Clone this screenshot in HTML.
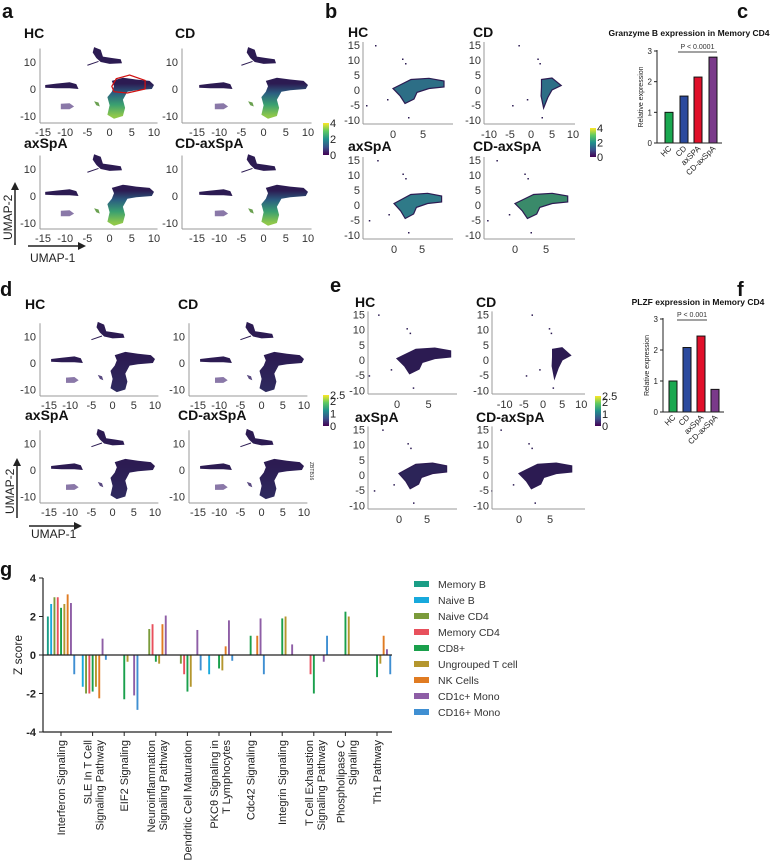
<!DOCTYPE html>
<html><head><meta charset="utf-8"><style>
body{margin:0;background:#fff}
svg{display:block;font-family:"Liberation Sans",Arial,sans-serif}
</style></head><body>
<svg id="fig" width="778" height="862" viewBox="0 0 778 862">
<defs>
<linearGradient id="vir" x1="0" y1="1" x2="0" y2="0"><stop offset="0" stop-color="#440154"/><stop offset="0.25" stop-color="#3b528b"/><stop offset="0.5" stop-color="#21918c"/><stop offset="0.75" stop-color="#5ec962"/><stop offset="1" stop-color="#fde725"/></linearGradient>
</defs>
<g id="root"></g>
</svg>
<script>
// ---------- data for panel g ----------
const gCategories = [["Interferon Signaling"],["SLE In T Cell","Signaling Pathway"],["EIF2 Signaling"],["Neuroinflammation","Signaling Pathway"],["Dendritic Cell Maturation"],["PKC\u03b8 Signaling in","T Lymphocytes"],["Cdc42 Signaling"],["Integrin Signaling"],["T Cell Exhaustion","Signaling Pathway"],["Phospholipase C","Signaling"],["Th1 Pathway"]];
const gSeriesNames = ["Memory B","Naive B","Naive CD4","Memory CD4","CD8+","Ungrouped T cell","NK Cells","CD1c+ Mono","CD16+ Mono"];
const gSeriesColors = ["#1a9e86","#18a9dc","#7b9b3b","#e8505c","#1aa04c","#b4962e","#e07b22","#8e5ea6","#3f8fd2"];
const sMemoryB   = [2.0, 0, 0, 0, 0, 0, 0, 0, 0, 0, 0];
const sNaiveB    = [2.65,-1.65,0, 0, 0,-1.0,0, 0, 0, 0, 0];
const sNaiveCD4  = [3.0,-2.0, 0, 1.35,-0.45,0, 0, 0, 0, 0, 0];
const sMemoryCD4 = [3.0,-2.0, 0, 1.6,-1.0, 0, 0, 0,-1.0, 0, 0];
const sCD8       = [2.45,-1.9,-2.3,-0.35,-1.9,-0.7,1.0,1.9,-2.0,2.25,-1.15];
const sUngrouped = [2.65,-1.65,-0.35,-0.45,-1.65,-0.8,0,2.0,0,2.0,-0.45];
const sNK        = [3.15,-2.25,0,1.6,0,0.45,1.0,0,0,0,1.0];
const sCD1c      = [2.7,0.85,-2.1,2.05,1.3,1.8,1.9,0.55,-0.35,0,0.3];
const sCD16      = [-1.0,-0.25,-2.85,0,-0.8,-0.3,-1.0,0,1.0,0,-1.0];
const gSeries = [sMemoryB,sNaiveB,sNaiveCD4,sMemoryCD4,sCD8,sUngrouped,sNK,sCD1c,sCD16];
const gTicks = [4,2,0,-2,-4];
// ---------- data for panels c / f ----------
const barGroups = ["HC","CD","axSPA","CD-axSpA"];
const barGroupsF = ["HC","CD","axSpA","CD-axSpA"];
const granzymeValues = [1.0,1.53,2.15,2.8];
const plzfValues = [1.0,2.08,2.45,0.73];
const barColors = ["#1aa850","#2b4a9e","#e0102a","#7a3a8a"];
const barTicks = [0,1,2,3];

const NS="http://www.w3.org/2000/svg";
const root=document.getElementById('root');
function el(tag,attrs,parent,text){const e=document.createElementNS(NS,tag);for(const k in attrs)e.setAttribute(k,attrs[k]);if(text!==undefined)e.textContent=text;(parent||root).appendChild(e);return e;}
function txt(x,y,s,size,opts,name){const t=el('text',Object.assign({x:x,y:y,'font-size':size,fill:'#222'},opts||{}),root,s);


return t;}

// panel letters
[["a",2,18],["b",325,18],["c",737,18],["d",0,296],["e",330,292],["f",737,296],["g",0,576]].forEach(p=>{
 txt(p[1],p[2],p[0],20,{'font-weight':'bold',fill:'#111'},'panel-letter-'+p[0]);});

// ---------- UMAP full panels ----------
function poly(pts,fx,fy){return pts.map((p,i)=>(i?'L':'M')+fx(p[0]).toFixed(1)+' '+fy(p[1]).toFixed(1)).join(' ')+'Z';}
const shpTop=[[-3.5,15.5],[-2,14.5],[-1.5,12],[0.5,11.5],[2.5,11],[2.8,9.5],[0,9.3],[-2,10],[-3,11.5],[-3.8,13.5]];
const shpLeft=[[-14.5,1.5],[-12,2],[-9,2.5],[-7.5,1.8],[-7,0],[-9,0.3],[-12,0.3],[-14.5,0.5]];
const shpSmall=[[-11,-5.5],[-9,-5.3],[-8,-6.5],[-9,-7.5],[-11,-7.5]];
const shpTiny=[[-3.5,-4.5],[-2.5,-5],[-2.2,-6.5],[-3,-6]];
const shpMain=[[0.5,3],[3,4.2],[6,3.5],[9,3],[10,1.5],[9.5,0],[6,-0.5],[4,-1],[3,-4],[3.5,-7],[3,-10],[1,-11],[-0.5,-9.5],[0,-6],[-0.5,-3],[0.5,-1],[1,1]];
function umapPanel(name,title,ox,oy0,sx,sy,axisX,bottom,green,tx,ty,gid){
 const fx=v=>ox+(v+15)*sx, fy=v=>oy0-v*sy;
 const g=el('g',{});
 
 
 txt(tx,ty,title,14,{'font-weight':'bold',fill:'#111'},'umap-title');
 const dark='#2c1b52';
 const gr=el('linearGradient',{id:gid,gradientUnits:'userSpaceOnUse',x1:0,y1:fy(-10),x2:0,y2:fy(2)},document.querySelector('defs'));
 if(green){el('stop',{offset:0,'stop-color':'#8fc84a'},gr);el('stop',{offset:0.35,'stop-color':'#3aa070'},gr);el('stop',{offset:0.7,'stop-color':'#2b5f80'},gr);el('stop',{offset:1,'stop-color':dark},gr);}
 else{el('stop',{offset:0,'stop-color':'#2e2a5e'},gr);el('stop',{offset:1,'stop-color':dark},gr);}
 el('path',{d:poly(shpTop,fx,fy),fill:dark},g);
 el('line',{x1:fx(-5),y1:fy(8.8),x2:fx(-2.5),y2:fy(10.2),stroke:dark,'stroke-width':1},g);
 el('path',{d:poly(shpLeft,fx,fy),fill:dark},g);
 el('path',{d:poly(shpSmall,fx,fy),fill:'#8a78a8'},g);
 el('path',{d:poly(shpTiny,fx,fy),fill:green?'#6aa050':'#5a4a80'},g);
 el('path',{d:poly(shpMain,fx,fy),fill:'url(#'+gid+')'},g);
 el('line',{x1:axisX,y1:fy(15),x2:axisX,y2:bottom,stroke:'#999','stroke-width':1},g);
 el('line',{x1:axisX,y1:bottom,x2:fx(10.8),y2:bottom,stroke:'#999','stroke-width':1},g);
 [10,0,-10].forEach(v=>txt(axisX-4,fy(v)+4,String(v),11,{'text-anchor':'end',fill:'#333'},'y-tick-label'));
 [-15,-10,-5,0,5,10].forEach(v=>txt(fx(v),bottom+13,String(v),11,{'text-anchor':'middle',fill:'#333'},'x-tick-label'));
}
umapPanel('a-hc','HC',43,89,4.44,2.7,40,123,true,24,38,'ga1');
umapPanel('a-cd','CD',197,89,4.44,2.7,182,123,true,175,38,'ga2');
umapPanel('a-axspa','axSpA',43,196,4.44,2.7,40,229,true,24,148,'ga3');
umapPanel('a-cdaxspa','CD-axSpA',197,196,4.44,2.7,182,229,true,175,148,'ga4');
// red hexagon in a HC
(function(){const fx=v=>43+(v+15)*4.44,fy=v=>89-v*2.7;
 const h=el('path',{d:poly([[0.5,1],[1.5,3.8],[4.5,5.2],[8,3.2],[8,0],[4,-1.5],[1,-1]],fx,fy),fill:'none',stroke:'#d01010','stroke-width':1.2});
 
 })();
umapPanel('d-hc','HC',49,363,4.24,2.65,40,396,false,25,309,'gd1');
umapPanel('d-cd','CD',198,363,4.24,2.65,189,396,false,178,309,'gd2');
umapPanel('d-axspa','axSpA',49,470,4.24,2.65,40,503,false,25,420,'gd3');
umapPanel('d-cdaxspa','CD-axSpA',198,470,4.24,2.65,189,503,false,178,420,'gd4');

// UMAP arrows
function arrows(vx,vy1,vy2,hy,hx1,hx2,ly,lbly){
 el('line',{x1:vx,y1:vy1,x2:vx,y2:vy2+6,stroke:'#222','stroke-width':1.5});
 el('path',{d:`M${vx-4} ${vy2+8} L${vx} ${vy2} L${vx+4} ${vy2+8}Z`,fill:'#222'});
 el('line',{x1:hx1,y1:hy,x2:hx2-6,y2:hy,stroke:'#222','stroke-width':1.5});
 el('path',{d:`M${hx2-8} ${hy-4} L${hx2} ${hy} L${hx2-8} ${hy+4}Z`,fill:'#222'});
 txt(hx1+2,ly,'UMAP-1',12,{fill:'#222'},'umap1-axis-label');
 txt(0,0,'UMAP-2',12,{fill:'#222',transform:`translate(${vx-3},${lbly}) rotate(-90)`},'umap2-axis-label');
}
arrows(15,245,182,246,28,86,262,240);
arrows(17,518,458,526,29,82,538,514);

// colorbars
function cbar(x,y1,y2,labels,name){const r=el('rect',{x:x,y:y1,width:6,height:y2-y1,fill:'url(#vir)'});
 
 
 labels.forEach(l=>txt(x+7,y2-(y2-y1)*l[1]+4,l[0],11,{fill:'#222'},'colorbar-label'));}
cbar(323,123,155,[["4",1],["2",0.5],["0",0]],'colorbar-a');
cbar(590,128,157,[["4",1],["2",0.5],["0",0]],'colorbar-b');
cbar(323,395,426,[["2.5",1],["2",0.8],["1",0.4],["0",0]],'colorbar-d');
cbar(595,396,426,[["2.5",1],["2",0.8],["1",0.4],["0",0]],'colorbar-e');
txt(0,0,'ZBTB16',5,{fill:'#333',transform:'translate(310,462) rotate(90)'},'gene-label');

// ---------- zoomed UMAP panels (b, e) ----------
const zMain=[[0,0.5],[1,1.5],[3,3.5],[6,3.9],[8.5,3],[8.5,1],[6,0.5],[4,-0.8],[3.5,-3],[2,-4.5],[1.2,-2]];
const zCD=[[2.5,3.5],[5,4],[7.2,1.5],[5,0],[4,-2.5],[3,-6],[2.4,-2],[2.5,1]];
const zDots=[[-3,15],[-4.5,-5],[2,9],[1.5,10.5],[2.5,-9],[-1,-3]];
function zoomPanel(name,title,x0,y0,sx,sy,axisX,bottom,right,isCD,fillc,tx,ty,xt,yt){
 const fx=v=>x0+v*sx, fy=v=>y0-v*sy;
 const g=el('g',{});
 
 
 txt(tx,ty,title,14,{'font-weight':'bold',fill:'#111'},'zoom-umap-title');
 el('path',{d:poly(isCD?zCD:zMain,fx,fy),fill:fillc,stroke:'#2c1b52','stroke-width':1.2},g);
 zDots.forEach(d=>el('rect',{x:fx(d[0]),y:fy(d[1]),width:1.5,height:1.5,fill:'#2c1b52'},g));
 el('line',{x1:axisX,y1:fy(16),x2:axisX,y2:bottom,stroke:'#999'},g);
 el('line',{x1:axisX,y1:bottom,x2:right,y2:bottom,stroke:'#999'},g);
 yt.forEach(v=>txt(axisX-3,fy(v)+4,String(v),11,{'text-anchor':'end',fill:'#333'},'y-tick-label'));
 xt.forEach(v=>txt(fx(v),bottom+14,String(v),11,{'text-anchor':'middle',fill:'#333'},'x-tick-label'));
}
const zy=[15,10,5,0,-5,-10];
zoomPanel('b-hc','HC',393,90,6,3,363,124,453,false,'#2d6e86',348,37,[0,5],zy);
zoomPanel('b-cd','CD',531,90,4.2,3,484,124,575,true,'#2d6e86',473,37,[-10,-5,0,5,10],zy);
zoomPanel('b-axspa','axSpA',394,205,5.6,3,363,239,453,false,'#2f7a88',348,151,[0,5],zy);
zoomPanel('b-cdaxspa','CD-axSpA',515,205,6.2,3,484,239,575,false,'#3a8a6a',473,151,[0,5],zy);
zoomPanel('e-hc','HC',397,360,6.3,3.04,368,394,457,false,'#2c1b52',355,307,[0,5],zy);
zoomPanel('e-cd','CD',543,360,3.83,3.04,492,394,585,true,'#2c1b52',476,307,[-10,-5,0,5,10],zy);
zoomPanel('e-axspa','axSpA',399,475,5.6,3.04,368,509,457,false,'#2c2458',355,422,[0,5],zy);
zoomPanel('e-cdaxspa','CD-axSpA',519,475,6.2,3.04,492,509,585,false,'#2c1b52',476,422,[0,5],zy);

// ---------- bar panels c / f ----------
function barPanel(name,title,titleX,titleY,axX,y0,y3,centers,vals,cats,pText,px1,px2){
 const fy=v=>y0-(y0-y3)*v/3;
 txt(titleX,titleY,title,8.5,{'font-weight':'bold','text-anchor':'middle',fill:'#111'},name+'-title');
 vals.forEach((v,i)=>{const r=el('rect',{x:centers[i]-4,y:fy(v),width:8,height:y0-fy(v),fill:barColors[i],stroke:'#111','stroke-width':1});
  
  
  txt(0,0,cats[i],8,{'text-anchor':'end',fill:'#222',transform:`translate(${centers[i]+3},${y0+6}) rotate(-45)`},'x-category-label');});
 el('line',{x1:axX,y1:y3-1,x2:axX,y2:y0,stroke:'#222'});
 el('line',{x1:axX,y1:y0,x2:centers[3]+9,y2:y0,stroke:'#222'});
 barTicks.forEach(t=>{el('line',{x1:axX-3,y1:fy(t),x2:axX,y2:fy(t),stroke:'#222'});txt(axX-5,fy(t)+3,String(t),8,{'text-anchor':'end',fill:'#222'},'y-tick-label');});
 txt(0,0,'Relative expression',7,{'text-anchor':'middle',fill:'#222',transform:`translate(${axX-14},${(y0+y3)/2}) rotate(-90)`},'y-axis-title');
 el('line',{x1:px1,y1:y3+1,x2:px2,y2:y3+1,stroke:'#444','stroke-width':1});
 txt((px1+px2)/2,y3-2,pText,7,{'text-anchor':'middle',fill:'#333'},'p-value');
}
barPanel('granzyme','Granzyme B expression in Memory CD4',689,36,657,143,51,[669,684,698,713],granzymeValues,barGroups,'P < 0.0001',678,717);
barPanel('plzf','PLZF expression in Memory CD4',698,305,663,412,319,[673,687,701,715],plzfValues,barGroupsF,'P < 0.001',677,707);

// ---------- panel g ----------
(function(){
 const axX=43, y4=578, ym4=732, xEnd=392;
 const fy=v=>y4+(4-v)*(ym4-y4)/8;
 const fx=i=>61+i*31.6;
 const bw=3.3;
 gSeries.forEach((s,si)=>s.forEach((v,ci)=>{ if(v===0) return;
  const x=fx(ci)+(si-4)*bw-0.9;
  const r=el('rect',{x:x,y:Math.min(fy(v),fy(0)),width:1.9,height:Math.abs(fy(v)-fy(0)),fill:gSeriesColors[si]});
  
  
 }));
 el('line',{x1:axX,y1:fy(4),x2:axX,y2:fy(-4),stroke:'#222','stroke-width':1.2});
 el('line',{x1:axX,y1:fy(0),x2:xEnd,y2:fy(0),stroke:'#222','stroke-width':1.2});
 el('line',{x1:axX,y1:fy(-4),x2:xEnd,y2:fy(-4),stroke:'#222','stroke-width':1.2});
 gTicks.forEach(t=>{el('line',{x1:axX-4,y1:fy(t),x2:axX,y2:fy(t),stroke:'#222'});
  txt(axX-7,fy(t)+4,String(t),11,{'text-anchor':'end','font-weight':'bold',fill:'#222'},'y-tick-label');});
 txt(0,0,'Z score',12,{'text-anchor':'middle',fill:'#222',transform:`translate(22,${fy(0)}) rotate(-90)`},'y-axis-title');
 gCategories.forEach((lines,ci)=>{const cx=fx(ci);
  el('line',{x1:cx,y1:fy(-4),x2:cx,y2:fy(-4)+4,stroke:'#222'});
  lines.forEach((ln,li)=>{const off=lines.length===1?4:(li===0?-1:11);
   txt(0,0,ln,11,{'text-anchor':'end',fill:'#222',transform:`translate(${cx+off},740) rotate(-90)`},'x-category-label');});});
 gSeriesNames.forEach((n,i)=>{const y=584+i*16;
  const r=el('rect',{x:414,y:y-3,width:15,height:6,fill:gSeriesColors[i]});
  
  
  txt(438,y+4,n,10.5,{fill:'#333'},'legend-entry');});
})();
</script>
</body></html>
